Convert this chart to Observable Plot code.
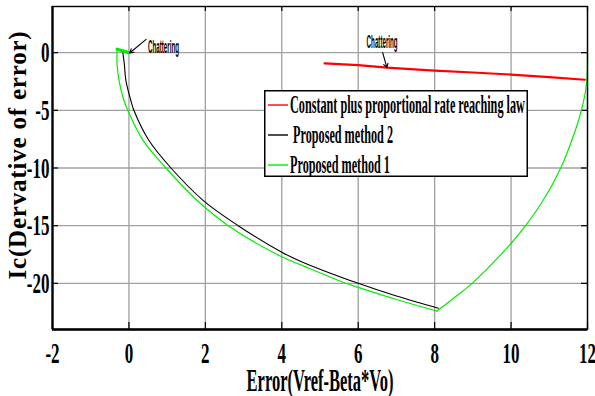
<!DOCTYPE html>
<html><head><meta charset="utf-8">
<script src="https://cdn.jsdelivr.net/npm/d3@7"></script>
<script src="https://cdn.jsdelivr.net/npm/@observablehq/plot@0.6"></script>
<style>
body{margin:0;background:#fff;}
#wrap{position:relative;width:595px;height:396px;background:#fff;}
#legend{position:absolute;left:264px;top:90px;}
</style></head><body><div id="wrap"></div>
<script>
// ---- data ----
const xTicks = [-2, 0, 2, 4, 6, 8, 10, 12];
const yTicks = [-20, -15, -10, -5, 0];
const seriesNames = ["Constant plus proportional rate reaching law", " Proposed method 2", "Proposed method 1"];
const seriesColors = ["#ff0000", "#000000", "#00ee00"];

// Constant plus proportional rate reaching law (red)
const redX = [5.12, 6.0, 6.75, 8.0, 9.0, 10.0, 11.0, 11.93];
const redY = [-0.93, -1.08, -1.3, -1.56, -1.72, -1.9, -2.12, -2.35];

// Proposed method 2 (black)
const m2X = [-0.16, -0.12, -0.08, 0.05, 0.13, 0.52, 1.1, 1.94, 2.86, 4.0, 4.5, 6.0, 7.0, 8.1];
const m2Y = [0.0, -1.0, -2.4, -4.15, -5.0, -7.6, -10.0, -12.8, -15.0, -17.3, -18.1, -20.0, -21.1, -22.15];

// Proposed method 1 (green): right branch then left branch
const m1RightX = [12.0, 11.99, 11.94, 11.84, 11.68, 11.30, 10.84, 10.38, 10.01, 8.98, 8.53, 8.06];
const m1RightY = [-0.1, -2.0, -3.5, -5.0, -6.75, -10.0, -12.8, -15.0, -16.5, -20.0, -21.2, -22.4];
const m1LeftX = [8.06, 7.0, 6.0, 5.6, 4.5, 4.0, 2.6, 1.78, 0.97, 0.37, -0.03, -0.13, -0.26, -0.31, -0.31];
const m1LeftY = [-22.4, -21.4, -20.35, -19.9, -18.4, -17.7, -15.0, -12.8, -10.0, -7.6, -5.0, -4.15, -2.4, -1.0, 0.3];
const m1ChatX = [-0.31, 0.0];
const m1ChatY = [0.3, 0.0];

// annotations
const noteText = ["Chattering", "Chattering"];
const noteX = [0.5, 6.22];
const noteY = [0.52, 0.95];
const arrowX1 = [0.45, 6.64], arrowY1 = [1.15, 0.0];
const arrowX2 = [0.02, 6.75], arrowY2 = [-0.03, -1.3];

const xTitle = "Error(Vref-Beta*Vo)";
const yTitle = "Ic(Dervative of error)";

// ---- build ----
const W = 595, H = 396, mL = 52, mR = 8, mT = 6, mB = 67;
const innerW = W - mL - mR, innerH = H - mT - mB;
const zip = (xs, ys) => xs.map((x, i) => ({x, y: ys[i]}));
const notes = noteText.map((t, i) => ({t, x: noteX[i], y: noteY[i]}));
const arrows = arrowX1.map((x1, i) => ({x1, y1: arrowY1[i], x2: arrowX2[i], y2: arrowY2[i]}));
const serif = "'Liberation Serif','Times New Roman',serif";

const plot = Plot.plot({
  width: W, height: H,
  marginLeft: mL, marginRight: mR, marginTop: mT, marginBottom: mB,
  x: {domain: [-2, 12], axis: null},
  y: {domain: [-24, 4], axis: null},
  style: {fontFamily: serif, background: "#fff", color: "#000"},
  marks: [
    Plot.ruleX(xTicks, {x: d => d, stroke: "#a0a0a0", strokeWidth: 1.3}),
    Plot.ruleY(yTicks, {y: d => d, stroke: "#a0a0a0", strokeWidth: 1.3}),
    Plot.tickX(xTicks, {x: d => d, insetTop: innerH - 7, stroke: "#000", strokeWidth: 1.2}),
    Plot.tickX(xTicks, {x: d => d, insetBottom: innerH - 5, stroke: "#000", strokeWidth: 1.2}),
    Plot.tickY(yTicks, {y: d => d, insetRight: innerW - 6, stroke: "#000", strokeWidth: 1.2}),
    Plot.tickY(yTicks, {y: d => d, insetLeft: innerW - 6, stroke: "#000", strokeWidth: 1.2}),
    Plot.line(zip(redX, redY), {x: "x", y: "y", stroke: seriesColors[0], strokeWidth: 2.2}),
    Plot.line(zip(m2X, m2Y), {x: "x", y: "y", stroke: seriesColors[1], strokeWidth: 1.1, curve: "catmull-rom"}),
    Plot.line(zip(m1RightX, m1RightY), {x: "x", y: "y", stroke: seriesColors[2], strokeWidth: 1.2, curve: "catmull-rom"}),
    Plot.line(zip(m1LeftX, m1LeftY), {x: "x", y: "y", stroke: seriesColors[2], strokeWidth: 1.2, curve: "catmull-rom"}),
    Plot.line(zip(m1ChatX, m1ChatY), {x: "x", y: "y", stroke: seriesColors[2], strokeWidth: 3.2}),
    Plot.arrow(arrows, {x1: "x1", y1: "y1", x2: "x2", y2: "y2", stroke: "#000", strokeWidth: 1.1, headLength: 6}),
    Plot.text(notes, {x: "x", y: "y", text: "t", textAnchor: "start", fontSize: 10, fontWeight: "bold", fontFamily: "'Liberation Sans',Arial,sans-serif", fill: "#000"}),
    Plot.text(xTicks, {x: d => d, frameAnchor: "bottom", lineAnchor: "middle", dy: 24, text: d => String(d), fontSize: 17, fontWeight: "bold", fill: "#000"}),
    Plot.text(yTicks, {y: d => d, frameAnchor: "left", lineAnchor: "middle", dx: -3, textAnchor: "end", text: d => String(d), fontSize: 17, fontWeight: "bold", fill: "#000"}),
    Plot.text([xTitle], {frameAnchor: "bottom", lineAnchor: "middle", dy: 52, text: d => d, fontSize: 16.5, fontWeight: "bold", fill: "#000"}),
    Plot.text([yTitle], {frameAnchor: "left", textAnchor: "middle", lineAnchor: "middle", dx: -35, dy: -13, rotate: -90, text: d => d, fontSize: 25, fontWeight: "bold", fill: "#000"}),
    Plot.ruleX([-2], {x: d => d, stroke: "#000", strokeWidth: 2.2}),
    Plot.ruleY([-24], {y: d => d, stroke: "#000", strokeWidth: 2.6}),
    Plot.frame({stroke: "#000", strokeWidth: 1.4})
  ]
});
document.getElementById("wrap").appendChild(plot);

// condensed look of the original typeface
function condense(el, sx, sy) {
  const t = el.getAttribute("transform");
  if (t) el.setAttribute("transform", t + ` scale(${sx},${sy})`);
  else {
    const x = +el.getAttribute("x") || 0, y = +el.getAttribute("y") || 0;
    el.setAttribute("transform", `translate(${x},${y}) scale(${sx},${sy}) translate(${-x},${-y})`);
  }
}
const tickStrings = new Set([...xTicks, ...yTicks].map(String));
d3.select(plot).selectAll("text").each(function () {
  const s = this.textContent;
  if (s === yTitle) { this.style.letterSpacing = "0.8px"; return; }
  if (s === xTitle) condense(this, 1, 1.85);
  else if (s === "Chattering") condense(this, 0.62, 1.9);
  else if (tickStrings.has(s)) condense(this, 1, 1.75);
});

// legend
const lw = 264, lh = 87;
const leg = d3.select("#wrap").append("svg").attr("id", "legend").attr("width", lw).attr("height", lh);
leg.append("rect").attr("x", 0.75).attr("y", 0.75).attr("width", lw - 1.5).attr("height", lh - 1.5)
  .attr("fill", "#fff").attr("stroke", "#000").attr("stroke-width", 1.5);
seriesNames.forEach((name, i) => {
  const cy = 15 + i * 30;
  leg.append("line").attr("x1", 4).attr("x2", 24).attr("y1", cy).attr("y2", cy)
    .attr("stroke", seriesColors[i]).attr("stroke-width", 1.4);
  leg.append("text").attr("transform", `translate(26,${cy}) scale(1,2.0)`)
    .attr("dy", "0.34em").attr("font-family", serif).attr("font-weight", "bold")
    .attr("font-size", 12.2).attr("xml:space", "preserve").style("white-space", "pre").text(name);
});
</script></body></html>
